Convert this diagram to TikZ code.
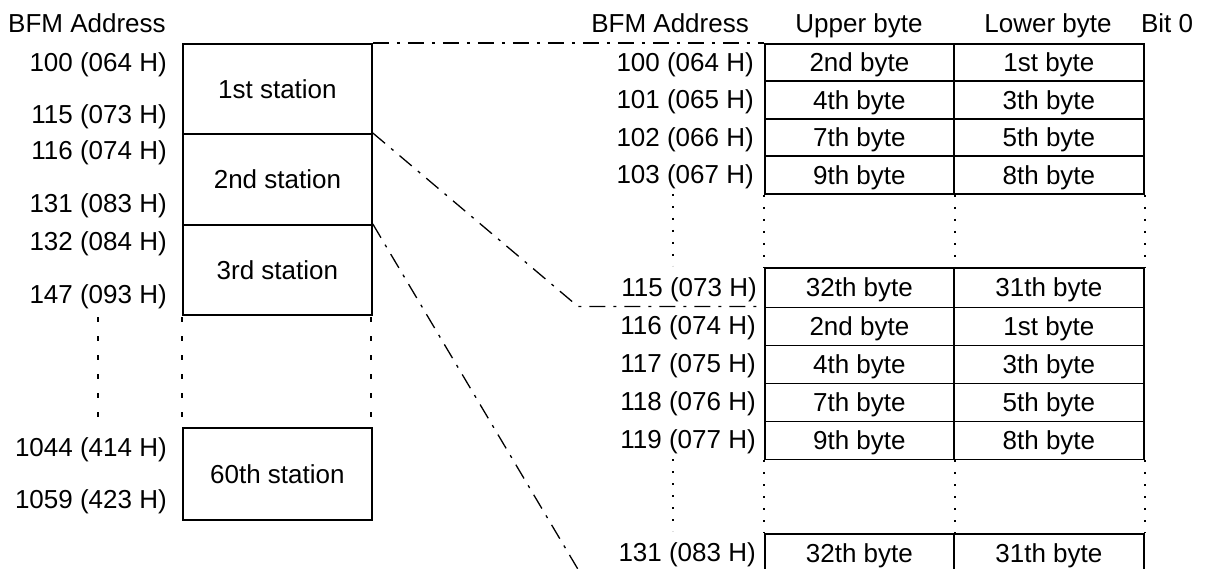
\documentclass[tikz,border=0pt]{standalone}
\usepackage{fontspec}
\setmainfont{Liberation Sans}
\begin{document}
\begin{tikzpicture}[x=1pt,y=-1pt,
  txt/.style={font=\fontsize{26}{30}\selectfont, inner sep=0pt, text height=18.6pt, text depth=0pt},
  lbl/.style={txt, anchor=east},
  hdr/.style={txt},
  stbox/.style={txt, draw, line width=1.8pt, anchor=north west, minimum width=189pt},
  cellbox/.style={txt, draw, line width=1.8pt, anchor=north west, minimum height=38pt},
  upc/.style={cellbox, minimum width=189pt},
  loc/.style={cellbox, minimum width=190pt},
  link/.style={line width=1.3pt, dash pattern=on 16pt off 8pt on 3pt off 8pt},
  bigdots/.style={line width=2.8pt, dash pattern=on 5pt off 14pt},
  smalldots/.style={line width=1.5pt, dash pattern=on 2pt off 10pt}
]
\useasboundingbox (0,0) rectangle (1207,569);

% ---- left side ----
\node[hdr, anchor=west] (hL) at (8,23) {BFM Address};
\node[lbl] (a100) at (167,62) {100 (064 H)};
\node[lbl] (a115) at (167,114) {115 (073 H)};
\node[lbl] (a116) at (167,150) {116 (074 H)};
\node[lbl] (a131) at (167,203) {131 (083 H)};
\node[lbl] (a132) at (167,241) {132 (084 H)};
\node[lbl] (a147) at (167,294) {147 (093 H)};
\node[lbl] (a1044) at (167,447) {1044 (414 H)};
\node[lbl] (a1059) at (167,499) {1059 (423 H)};

\node[stbox, minimum height=90pt] (st1) at (182,43) {1st station};
\node[stbox, minimum height=91pt] (st2) at (182,133) {2nd station};
\node[stbox, minimum height=90pt] (st3) at (182,224) {3rd station};
\node[stbox, minimum height=92pt] (st60) at (182,427) {60th station};

\coordinate (ld1a) at (98,317);  \coordinate (ld1b) at (98,418);
\coordinate (ld2a) at (182,317); \coordinate (ld2b) at (182,418);
\coordinate (ld3a) at (371,317); \coordinate (ld3b) at (371,418);
\draw[bigdots] (ld1a) -- (ld1b);
\draw[bigdots] (ld2a) -- (ld2b);
\draw[bigdots] (ld3a) -- (ld3b);

% ---- right side headers ----
\node[hdr, anchor=east] (hR) at (749,23) {BFM Address};
\node[hdr] (hU) at (859,23) {Upper byte};
\node[hdr] (hLo) at (1048,23) {Lower byte};
\node[hdr] (hB) at (1167,23) {Bit 0};

% ---- block 1 ----
\node[upc, minimum height=37.5pt] (u100) at (764,43) {2nd byte};
\node[loc, minimum height=37.5pt] (l100) at (953,43) {1st byte};
\node[upc, minimum height=37.5pt] (u101) at (764,80.5) {4th byte};
\node[loc, minimum height=37.5pt] (l101) at (953,80.5) {3th byte};
\node[upc, minimum height=37.5pt] (u102) at (764,118) {7th byte};
\node[loc, minimum height=37.5pt] (l102) at (953,118) {5th byte};
\node[upc, minimum height=37.5pt] (u103) at (764,155.5) {9th byte};
\node[loc, minimum height=37.5pt] (l103) at (953,155.5) {8th byte};
\node[upc, minimum height=39.5pt] (u115) at (764,267) {32th byte};
\node[loc, minimum height=39.5pt] (l115) at (953,267) {31th byte};

\node[lbl] (b100) at (754,62) {100 (064 H)};
\node[lbl] (b101) at (754,99) {101 (065 H)};
\node[lbl] (b102) at (754,137) {102 (066 H)};
\node[lbl] (b103) at (754,174) {103 (067 H)};
\node[lbl] (b115) at (757,287) {115 (073 H)};

% ---- block 2 ----
\node[upc] (u116) at (764,306.5) {2nd byte};
\node[loc] (l116) at (953,306.5) {1st byte};
\node[upc] (u117) at (764,344.5) {4th byte};
\node[loc] (l117) at (953,344.5) {3th byte};
\node[upc] (u118) at (764,382.5) {7th byte};
\node[loc] (l118) at (953,382.5) {5th byte};
\node[upc] (u119) at (764,420.5) {9th byte};
\node[loc] (l119) at (953,420.5) {8th byte};
\node[upc] (u131) at (764,533) {32th byte};
\node[loc] (l131) at (953,533) {31th byte};

\node[lbl] (b116) at (756,325.5) {116 (074 H)};
\node[lbl] (b117) at (756,363.5) {117 (075 H)};
\node[lbl] (b118) at (756,401.5) {118 (076 H)};
\node[lbl] (b119) at (756,439.5) {119 (077 H)};
\node[lbl] (b131) at (756,552) {131 (083 H)};

% ---- dotted continuation lines ----
\coordinate (d1a) at (673,194); \coordinate (d1b) at (673,266);
\coordinate (d2a) at (673,459); \coordinate (d2b) at (673,531);
\draw[smalldots] (d1a) -- (d1b);
\draw[smalldots] (d2a) -- (d2b);
\draw[smalldots] (u103.south west) -- (u115.north west);
\draw[smalldots] (u103.south east) -- (u115.north east);
\draw[smalldots] (l103.south east) -- (l115.north east);
\draw[smalldots] (u119.south west) -- (u131.north west);
\draw[smalldots] (u119.south east) -- (u131.north east);
\draw[smalldots] (l119.south east) -- (l131.north east);

% ---- dash-dot links ----
\coordinate (k2) at (578,306.5);
\coordinate (k3) at (579,571);
\draw[link] (st1.north east) -- (u100.north west);
\draw[link] (st2.north east) -- (k2) -- (u116.north west);
\draw[link] (st3.north east) -- (k3);
\end{tikzpicture}
\end{document}
